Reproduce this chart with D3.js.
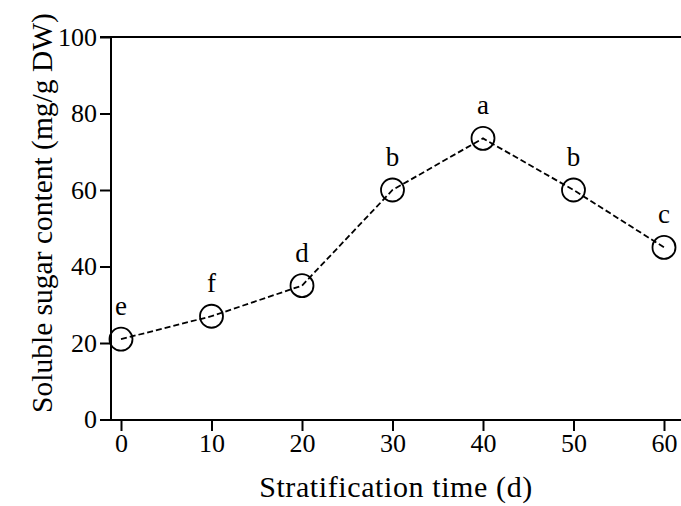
<!DOCTYPE html>
<html>
<head>
<meta charset="utf-8">
<script src="https://cdn.jsdelivr.net/npm/d3@7"></script>
<style>
  body { margin: 0; background: #fff; }
  svg text { font-family: "Liberation Serif", "Times New Roman", serif; fill: #000; }
</style>
</head>
<body>
<div id="chart"></div>
<script>
// stratification days and soluble sugar content (mg/g DW)
const days = [0, 10, 20, 30, 40, 50, 60];
const sugar = [21, 27, 35, 60, 73.5, 60, 45];
const letters = ['e', 'f', 'd', 'b', 'a', 'b', 'c'];
const xTicks = [0, 10, 20, 30, 40, 50, 60];
const yTicks = [0, 20, 40, 60, 80, 100];

const W = 681, H = 506;
const axisLeftX = 111, plotTop = 37, plotBottom = 420;

let svg = d3.select('#chart').append('svg')
    .attr('width', W)
    .attr('height', H);

let x = d3.scaleLinear().domain([0, 60]).range([121, 664]);
let y = d3.scaleLinear().domain([0, 100]).range([419.5, 37]);

// frame lines (top + bottom run to the edge)
svg.append('line')
    .attr('x1', 100).attr('x2', W)
    .attr('y1', plotTop).attr('y2', plotTop)
    .attr('stroke', '#000').attr('stroke-width', 2);

svg.append('line')
    .attr('x1', axisLeftX).attr('x2', W)
    .attr('y1', plotBottom).attr('y2', plotBottom)
    .attr('stroke', '#000').attr('stroke-width', 2);

svg.append('line')
    .attr('x1', axisLeftX).attr('x2', axisLeftX)
    .attr('y1', plotTop).attr('y2', plotBottom)
    .attr('stroke', '#000').attr('stroke-width', 2);

// y axis
let yAxis = svg.append('g')
    .attr('transform', `translate(${axisLeftX},0)`)
    .attr('font-family', null)
    .call(d3.axisLeft(y).tickValues(yTicks).tickSize(11).tickPadding(3).tickSizeOuter(0));
yAxis.select('.domain').remove();
yAxis.selectAll('line').attr('stroke', '#000').attr('stroke-width', 2);
yAxis.selectAll('text').attr('font-size', 26).attr('font-family', '"Liberation Serif", serif');

// x axis
let xAxis = svg.append('g')
    .attr('transform', `translate(0,${plotBottom})`)
    .call(d3.axisBottom(x).tickValues(xTicks).tickSize(11).tickPadding(3).tickSizeOuter(0));
xAxis.select('.domain').remove();
xAxis.selectAll('line').attr('stroke', '#000').attr('stroke-width', 2);
xAxis.selectAll('text').attr('font-size', 26).attr('font-family', '"Liberation Serif", serif');

// axis titles
svg.append('text')
    .attr('x', 396).attr('y', 497)
    .attr('text-anchor', 'middle')
    .attr('font-size', 30)
    .attr('letter-spacing', 0.6)
    .text('Stratification time (d)');

svg.append('text')
    .attr('transform', 'translate(52,213) rotate(-90)')
    .attr('text-anchor', 'middle')
    .attr('font-size', 29.5)
    .text('Soluble sugar content (mg/g DW)');

let data = days.map((d, i) => ({ day: d, value: sugar[i], letter: letters[i] }));

// dashed connecting line
let line = d3.line().x(d => x(d.day)).y(d => y(d.value));
svg.append('path')
    .datum(data)
    .attr('d', line)
    .attr('fill', 'none')
    .attr('stroke', '#000')
    .attr('stroke-width', 1.8)
    .attr('stroke-dasharray', '6,3');

// open circles
svg.selectAll('circle.pt').data(data)
    .enter().append('circle')
    .attr('class', 'pt')
    .attr('cx', d => x(d.day))
    .attr('cy', d => y(d.value))
    .attr('r', 11.5)
    .attr('fill', 'none')
    .attr('stroke', '#000')
    .attr('stroke-width', 1.8);

// significance letters
svg.selectAll('text.sig').data(data)
    .enter().append('text')
    .attr('class', 'sig')
    .attr('x', d => x(d.day))
    .attr('y', d => y(d.value) - 24)
    .attr('text-anchor', 'middle')
    .attr('font-size', 27)
    .text(d => d.letter);
</script>
</body>
</html>
